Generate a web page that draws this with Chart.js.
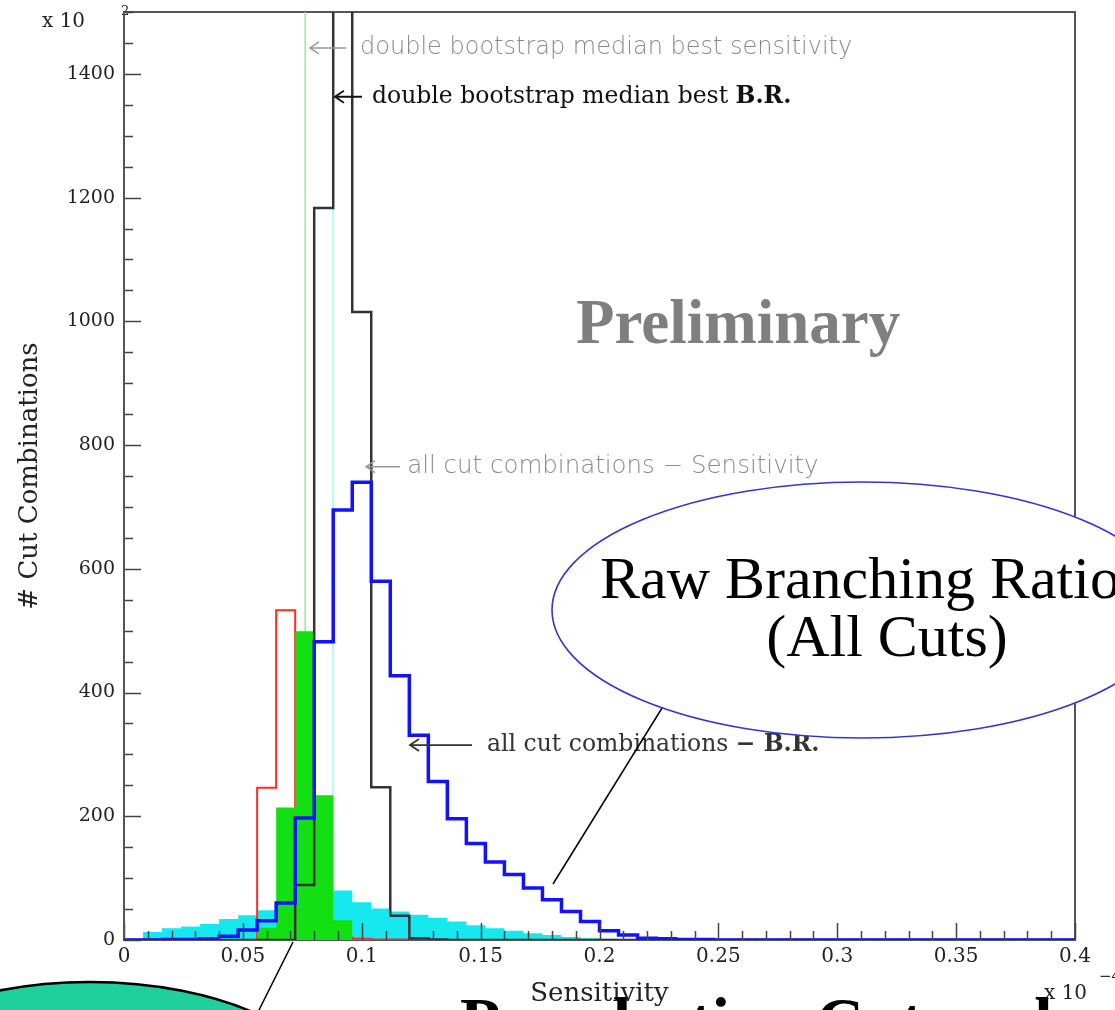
<!DOCTYPE html>
<html><head><meta charset="utf-8">
<script src="https://cdn.jsdelivr.net/npm/chart.js@4.4.1/dist/chart.umd.min.js"></script>
<style>html,body{margin:0;padding:0;background:#fff;overflow:hidden}#wrap{position:relative;width:1115px;height:1010px}</style>
</head><body><div id="wrap"><canvas id="c" width="1115" height="1010"></canvas></div>
<script>
// ---- data (bin low edges, width 0.008 in units of 1e-4) ----
const binLowEdges = [0,0.008,0.016,0.024,0.032,0.04,0.048,0.056,0.064,0.072,
  0.08,0.088,0.096,0.104,0.112,0.12,0.128,0.136,0.144,0.152,
  0.16,0.168,0.176,0.184,0.192,0.2,0.208,0.216,0.224,0.232,
  0.24,0.248,0.256,0.264,0.272,0.28,0.288,0.296,0.304,0.312,
  0.32,0.328,0.336,0.344,0.352,0.36,0.368,0.376,0.384,0.392];
const binUpperEdge = 0.4;
// all cut combinations - Sensitivity (cyan, filled)
const allCutsSensitivity = [0,13,19,22,26,34,40,48,58,68,
  76,80,61,51,46,41,36,30,24,19,
  15,11,8,5,3,2,1,0,0,0,
  0,0,0,0,0,0,0,0,0,0,
  0,0,0,0,0,0,0,0,0,0];
// all cut combinations - B.R. (blue outline)
const allCutsBR = [0,0,1,1,2,6,16,31,60,197,
  482,695,740,580,427,331,256,196,156,126,
  106,84,65,46,30,15,8,3,2,1,
  1,0,0,0,0,0,0,0,0,0,
  0,0,0,0,0,0,0,0,0,0];
// double bootstrap best sensitivity (green, filled)
const bootBestSensitivity = [0,0,0,0,0,0,0,20,214,499,
  234,32,0,0,0,0,0,0,0,0,
  0,0,0,0,0,0,0,0,0,0,
  0,0,0,0,0,0,0,0,0,0,
  0,0,0,0,0,0,0,0,0,0];
// double bootstrap best B.R. (black outline)
const bootBestBR = [0,0,0,0,0,0,0,0,0,89,
  1183,1650,1015,247,39,3,1,0,0,0,
  0,0,0,0,0,0,0,0,0,0,
  0,0,0,0,0,0,0,0,0,0,
  0,0,0,0,0,0,0,0,0,0];
// preselection cuts (red outline)
const preselection = [0,0,0,0,0,0,0,246,533,85,
  8,4,2,1,1,0,0,0,0,0,
  0,0,0,0,0,0,0,0,0,0,
  0,0,0,0,0,0,0,0,0,0,
  0,0,0,0,0,0,0,0,0,0];
const medianBootSensitivity = 0.0762;
const medianAllSensitivity = 0.0879;
const xMajorTicks = [0,0.05,0.1,0.15,0.2,0.25,0.3,0.35,0.4];
const xTickLabels = ['0','0.05','0.1','0.15','0.2','0.25','0.3','0.35','0.4'];
const yMajorTicks = [0,200,400,600,800,1000,1200,1400];
const yTickLabels = ['0','200','400','600','800','1000','1200','1400'];
const xMinorStep = 0.01, yMinorStep = 50;

function hist(vals){
  const pts=[{x:binLowEdges[0],y:0}];
  binLowEdges.forEach((e,i)=>pts.push({x:e,y:vals[i]}));
  pts.push({x:binUpperEdge,y:0});
  return pts;
}
function vline(v){return [{x:v,y:0},{x:v,y:1500}];}

const SERIF='"DejaVu Serif", serif';
const TIMES='"Liberation Serif", "Times New Roman", serif';
const SANS='"DejaVu Sans", sans-serif';

function arrowLeft(ctx,xh,xt,y,color,lw){
  ctx.save();ctx.strokeStyle=color;ctx.lineWidth=lw;ctx.beginPath();
  ctx.moveTo(xt,y);ctx.lineTo(xh,y);
  ctx.moveTo(xh+9,y-6);ctx.lineTo(xh,y);ctx.lineTo(xh+9,y+6);ctx.stroke();ctx.restore();
}
function richText(ctx,x,y,parts){
  let cx=x;
  for(const p of parts){ctx.font=p.font;ctx.fillStyle=p.color;ctx.fillText(p.t,cx,y);cx+=ctx.measureText(p.t).width;}
}

const framePlugin={
  id:'frame',
  beforeDatasetsDraw(chart){
    const {ctx,chartArea:a}=chart;
    ctx.save();
    ctx.fillStyle='#222';ctx.font='20px '+SERIF;ctx.textBaseline='middle';
    ctx.fillText('x 10',42,22);
    ctx.font='13px '+SERIF;ctx.fillText('2',121,12);
    ctx.strokeStyle='#555';ctx.lineWidth=2;
    ctx.strokeRect(a.left,a.top,a.right-a.left,a.bottom-a.top);
    ctx.restore();
  },
  afterDatasetsDraw(chart){
    const {ctx,chartArea:a,scales:{x,y}}=chart;
    ctx.save();ctx.strokeStyle='#444';ctx.lineWidth=1.5;ctx.beginPath();
    for(let k=0;k*yMinorStep<=1500;k++){
      const v=k*yMinorStep;const py=Math.round(y.getPixelForValue(v))+0.5;
      const len=(v%200===0)?17:9;ctx.moveTo(a.left,py);ctx.lineTo(a.left+len,py);
    }
    for(let k=0;k<=40;k++){
      const v=k*xMinorStep;const pxx=Math.round(x.getPixelForValue(v))+0.5;
      const len=(k%5===0)?17:9;ctx.moveTo(pxx,a.bottom);ctx.lineTo(pxx,a.bottom-len);
    }
    ctx.stroke();
    ctx.strokeStyle='#555';ctx.lineWidth=2;ctx.beginPath();
    ctx.moveTo(a.left,a.top);ctx.lineTo(a.left,a.bottom-2);ctx.stroke();
    ctx.restore();
  },
  afterDraw(chart){
    const {ctx,scales:{x,y}}=chart;
    const X=v=>x.getPixelForValue(v), Y=v=>y.getPixelForValue(v);
    ctx.save();
    ctx.textBaseline='middle';
    // ROOT annotations
    arrowLeft(ctx,X(0.0782),X(0.0935),Y(1442),'#9a9a9a',1.5);
    richText(ctx,X(0.0993),Y(1442),[{t:'double bootstrap median best sensitivity',font:'200 24px '+SANS,color:'#8a8a8a'}]);
    arrowLeft(ctx,X(0.0887),X(0.1001),Y(1363),'#111',1.8);
    richText(ctx,X(0.1043),Y(1363),[{t:'double bootstrap median best ',font:'23.5px '+SERIF,color:'#111'},{t:'B.R.',font:'bold 23.5px '+SERIF,color:'#111'}]);
    arrowLeft(ctx,X(0.1018),X(0.1161),Y(765),'#9a9a9a',1.5);
    richText(ctx,X(0.1191),Y(765),[{t:'all cut combinations \u2212 Sensitivity',font:'200 24.5px '+SANS,color:'#8a8a8a'}]);
    arrowLeft(ctx,X(0.1203),X(0.1464),Y(315),'#333',1.8);
    richText(ctx,X(0.1527),Y(315),[{t:'all cut combinations ',font:'23.5px '+SERIF,color:'#333'},{t:'\u2212 B.R.',font:'bold 23.5px '+SERIF,color:'#333'}]);
    ctx.textAlign='center';
    ctx.font='bold 63px '+TIMES;ctx.fillStyle='#7f7f7f';
    ctx.fillText('Preliminary',X(0.2583),Y(991));
    ctx.textAlign='left';
    // exponent at bottom right
    ctx.fillStyle='#222';ctx.font='20px '+SERIF;ctx.fillText('x 10',1044,994);
    ctx.font='15px '+SERIF;ctx.fillText('\u22124',1099,977);
    // slide overlays
    ctx.lineWidth=1.5;ctx.strokeStyle='#000';
    ctx.beginPath();ctx.moveTo(667,700);ctx.lineTo(553,884);ctx.stroke();
    ctx.beginPath();ctx.moveTo(293,942);ctx.lineTo(258,1012);ctx.stroke();
    ctx.beginPath();ctx.ellipse(862,610,310,128,0,0,Math.PI*2);
    ctx.fillStyle='#fff';ctx.fill();ctx.strokeStyle='#3535cc';ctx.lineWidth=1.6;ctx.stroke();
    ctx.fillStyle='#000';ctx.font='60px '+TIMES;ctx.textBaseline='alphabetic';
    ctx.fillText('Raw Branching Ratio',600,598);
    ctx.textAlign='center';ctx.fillText('(All Cuts)',887,656);
    ctx.textAlign='left';
    ctx.beginPath();ctx.ellipse(90,1107,250,125,0,0,Math.PI*2);
    ctx.fillStyle='#1fcf9c';ctx.fill();ctx.strokeStyle='#000';ctx.lineWidth=2.5;ctx.stroke();
    ctx.fillStyle='#000';ctx.font='bold 66px '+TIMES;
    ctx.fillText('Preselection Cuts only',460,1043);
    ctx.restore();
  }
};

const common={pointRadius:0,pointHoverRadius:0,tension:0};
new Chart(document.getElementById('c').getContext('2d'),{
  type:'line',
  data:{datasets:[
    Object.assign({label:'median best sensitivity',data:vline(medianBootSensitivity),borderColor:'#8fee8f',borderWidth:1.5,fill:false,order:10},common),
    Object.assign({label:'median all sensitivity',data:vline(medianAllSensitivity),borderColor:'#a6f6f6',borderWidth:1.5,fill:false,order:10},common),
    Object.assign({label:'all cut combinations - Sensitivity',data:hist(allCutsSensitivity),stepped:'before',fill:'origin',backgroundColor:'#15e9ef',borderColor:'rgba(0,0,0,0)',borderWidth:0,order:9},common),
    Object.assign({label:'preselection',data:hist(preselection),stepped:'before',fill:false,borderColor:'#ff2a2a',borderWidth:2,order:8},common),
    Object.assign({label:'double bootstrap best sensitivity',data:hist(bootBestSensitivity),stepped:'before',fill:'origin',backgroundColor:'#12e012',borderColor:'rgba(0,0,0,0)',borderWidth:0,order:7},common),
    Object.assign({label:'double bootstrap best B.R.',data:hist(bootBestBR),stepped:'before',fill:false,borderColor:'#333',borderWidth:2.5,order:6},common),
    Object.assign({label:'all cut combinations - B.R.',data:hist(allCutsBR),stepped:'before',fill:false,borderColor:'#1212ff',borderWidth:3.5,order:5},common)
  ]},
  options:{
    responsive:false,animation:false,events:[],
    layout:{padding:{left:0,right:40,top:12,bottom:0}},
    plugins:{legend:{display:false},tooltip:{enabled:false}},
    scales:{
      x:{type:'linear',min:0,max:0.4,
        grid:{display:false,drawTicks:false},border:{display:false},
        afterBuildTicks:s=>{s.ticks=xMajorTicks.map(v=>({value:v}));},
        ticks:{autoSkip:false,maxRotation:0,minRotation:0,padding:5,color:'#222',font:{family:SERIF,size:20},
          callback:(v,i)=>xTickLabels[i]},
        title:{display:true,text:'Sensitivity',color:'#222',font:{family:SERIF,size:26},padding:{top:0,bottom:0}},
        afterFit:s=>{s.height=70;s.paddingLeft=0;s.paddingRight=0;}
      },
      y:{type:'linear',min:0,max:1500,
        grid:{display:false,drawTicks:false},border:{display:false},
        afterBuildTicks:s=>{s.ticks=yMajorTicks.map(v=>({value:v}));},
        ticks:{autoSkip:false,padding:9,color:'#222',font:{family:SERIF,size:19},
          callback:(v,i)=>yTickLabels[i]},
        title:{display:true,text:'# Cut Combinations',color:'#222',font:{family:SERIF,size:26},padding:{top:15,bottom:0}},
        afterFit:s=>{s.width=124;s.paddingTop=0;s.paddingBottom=0;}
      }
    }
  },
  plugins:[framePlugin]
});
</script></body></html>
